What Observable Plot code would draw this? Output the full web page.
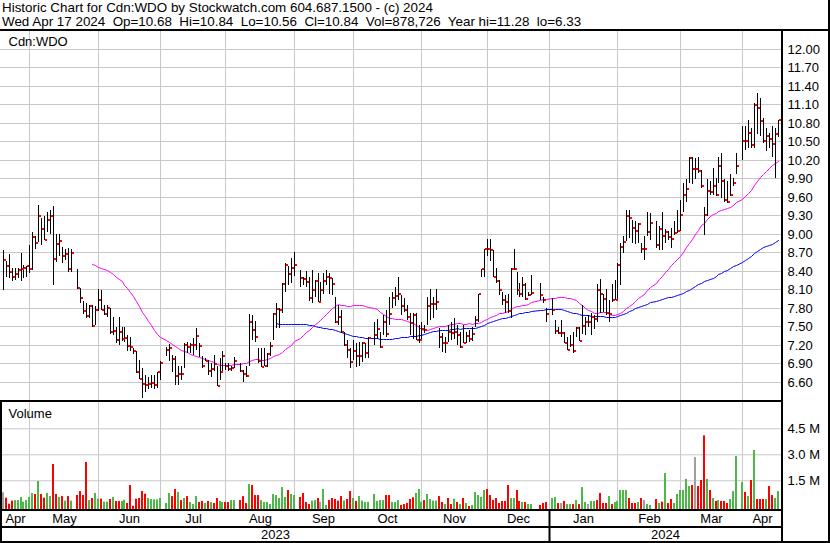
<!DOCTYPE html>
<html>
<head>
<meta charset="utf-8">
<script src="https://cdn.jsdelivr.net/npm/d3@7"></script>
<script src="https://cdn.jsdelivr.net/npm/@observablehq/plot@0.6"></script>
<style>
  html, body { margin: 0; padding: 0; background: #fff; }
  #chart { position: relative; width: 830px; height: 543px; overflow: hidden; background: #fff;
           font-family: "Liberation Sans", Arial, sans-serif; font-size: 13px; color: #000; }
  #chart .hdr { position: absolute; left: 2px; white-space: pre; font-size: 13.4px; line-height: 14px; }
  #chart .rule { position: absolute; background: #000; }
  #chart .panel { position: absolute; left: 0; }
  #chart svg { display: block; }
</style>
</head>
<body>
<div id="chart"></div>
<script>
// ---- Quote data: one entry per weekday starting on firstDay (null = market holiday) ----
const firstDay = "2023-04-18";

const highs = [
  8.74, 8.55, 8.67, 8.44, 8.45, 8.45, 8.68, 8.49, 8.48, 8.82,
  9.02, 8.97, 9.47, 9.25, 9.29, 9.36, 9.38, 9.45, 8.99, 8.99,
  8.79, 8.76, 8.77, 8.76, null, 8.43, 8.12, 7.91, 7.87, 7.84,
  7.84, 7.82, 8.10, 8.08, 7.84, 7.84, 7.80, 7.65, 7.49, 7.65,
  7.49, 7.48, 7.36, 7.33, 7.15, 7.09, 6.95, 6.82, 6.71, 6.67,
  6.71, 6.71, 6.76, 6.93, null, 7.17, 7.21, 7.04, 7.01, 6.86,
  6.86, 7.22, 7.24, 7.22, 7.31, 7.47, 7.22, 7.01, 6.99, 6.95,
  6.90, 7.04, 6.85, 6.98, 7.10, 6.90, 6.91, 6.85, 7.00, null,
  6.90, 6.79, 6.85, 7.70, 7.68, 7.58, 7.15, 7.14, 7.14, 7.06,
  7.25, 7.71, 7.88, 7.79, 8.20, 8.52, 8.47, 8.60, 8.70, null,
  8.41, 8.30, 8.39, 8.30, 8.41, 8.25, 8.36, 8.22, 8.36, 8.41,
  8.36, 8.28, 7.98, 7.84, 7.76, 7.41, 7.28, 7.14, 7.28, 7.22,
  7.24, 7.24, 7.23, 7.33, null, 7.57, 7.62, 7.41, 7.68, 7.76,
  7.98, 8.06, 8.14, 8.30, 8.01, 7.96, 7.84, 7.71, 7.72, 7.71,
  7.52, 7.57, 7.52, 7.98, 8.11, 7.98, 8.11, 7.47, 7.39, 7.33,
  7.52, 7.57, 7.63, 7.52, 7.41, 7.52, 7.41, 7.44, 7.48, 7.67,
  8.03, 8.43, 8.76, 8.91, 8.92, 8.74, 8.45, 8.25, 8.06, 8.01,
  8.03, 8.44, 8.76, 8.38, 8.20, 8.30, 8.20, 8.06, 8.33, null,
  null, 8.20, 7.98, 7.79, null, 7.95, 7.60, 7.49, 7.60, 7.41,
  7.33, 7.35, 7.41, 7.49, 7.49, 7.84, 7.65, 7.68, 7.71, 7.68,
  8.19, 8.26, 8.03, 8.11, 7.92, 8.18, 8.25, 8.52, 8.85, 8.96,
  9.39, 9.39, 9.23, 9.20, 9.17, 8.85, 8.96, 9.36, 9.34, null,
  9.20, 9.12, 9.36, 9.07, 9.04, 9.09, 9.20, 9.39, 9.55, 9.82,
  9.88, 10.25, 10.25, 10.23, 10.25, 10.04, 9.44, 9.88, 9.85, 10.07,
  9.90, 10.25, 10.31, 9.88, 9.85, 9.96, 9.90, 10.31, null, 10.74,
  10.74, 10.85, 10.71, 11.12, 11.28, 11.20, 10.88, 10.71, 10.63, 10.74,
  10.71, 10.84
];

const lows = [
  8.09, 8.29, 8.28, 8.24, 8.25, 8.28, 8.24, 8.28, 8.30, 8.36,
  8.41, 8.76, 8.87, 8.82, 8.90, 9.02, 8.99, 8.17, 8.54, 8.64,
  8.52, 8.57, 8.38, 8.38, null, 8.11, 7.87, 7.69, 7.63, 7.64,
  7.49, 7.52, 7.75, 7.76, 7.68, 7.65, 7.37, 7.36, 7.22, 7.20,
  7.26, 7.25, 7.09, 7.09, 7.05, 6.74, 6.64, 6.33, 6.44, 6.48,
  6.49, 6.48, 6.49, 6.63, null, 7.01, 6.93, 6.75, 6.55, 6.54,
  6.63, 6.82, 7.06, 7.07, 7.04, 7.12, 7.00, 6.83, 6.93, 6.71,
  6.68, 6.77, 6.53, 6.63, 6.74, 6.79, 6.77, 6.78, 6.83, null,
  6.75, 6.59, 6.68, 6.86, 7.28, 7.25, 6.90, 6.84, 6.85, 6.84,
  7.01, 7.28, 7.47, 7.47, 7.71, 8.06, 8.17, 8.20, 8.31, null,
  8.14, 8.17, 8.14, 7.91, 7.87, 7.98, 7.90, 7.90, 8.02, 8.17,
  8.02, 8.01, 7.55, 7.52, 7.39, 7.18, 6.98, 6.83, 6.95, 6.84,
  6.86, 6.92, 6.98, 6.99, null, 7.20, 7.30, 7.14, 7.36, 7.33,
  7.52, 7.79, 7.82, 7.93, 7.68, 7.73, 7.60, 7.36, 7.30, 7.28,
  7.22, 7.30, 7.39, 7.52, 7.60, 7.63, 7.76, 7.14, 7.08, 7.06,
  7.25, 7.28, 7.30, 7.20, 7.15, 7.22, 7.22, 7.25, 7.26, 7.48,
  7.57, 8.30, 8.30, 8.64, 8.55, 8.30, 8.20, 8.01, 7.84, 7.71,
  7.72, 7.63, 8.41, 8.01, 7.98, 7.98, 7.92, 7.99, 8.01, null,
  null, 7.92, 7.87, 7.57, null, 7.68, 7.38, 7.37, 7.33, 7.22,
  7.11, 7.17, 7.06, 7.33, 7.26, 7.38, 7.35, 7.49, 7.35, 7.46,
  7.57, 7.71, 7.73, 7.68, 7.57, 7.90, 7.92, 7.92, 8.17, 8.69,
  8.88, 8.93, 8.85, 8.83, 8.85, 8.69, 8.58, 8.96, 8.90, null,
  8.77, 8.74, 8.74, 8.85, 8.90, 8.77, 8.98, 9.01, 9.04, 9.36,
  9.52, 9.82, 9.80, 9.88, 9.98, 9.74, 8.98, 9.28, 9.63, 9.63,
  9.61, 9.82, 9.58, 9.52, 9.50, 9.61, 9.77, 9.96, null, 10.20,
  10.36, 10.39, 10.39, 10.39, 10.61, 10.58, 10.47, 10.34, 10.39, 10.25,
  9.90, 10.56
];

const closes = [
  8.58, 8.47, 8.38, 8.30, 8.35, 8.41, 8.43, 8.45, 8.47, 8.43,
  8.94, 8.85, 9.29, 9.07, 8.90, 9.23, 9.29, 8.59, 8.84, 8.88,
  8.64, 8.67, 8.43, 8.68, null, 8.12, 7.96, 7.74, 7.67, 7.83,
  7.50, 7.76, 7.92, 7.76, 7.70, 7.79, 7.41, 7.42, 7.28, 7.41,
  7.29, 7.31, 7.18, 7.17, 7.09, 6.75, 6.65, 6.57, 6.54, 6.57,
  6.58, 6.54, 6.75, 6.90, null, 7.11, 7.14, 6.97, 6.70, 6.72,
  6.72, 7.20, 7.17, 7.19, 7.19, 7.34, 7.18, 6.85, 6.94, 6.78,
  6.81, 6.89, 6.53, 6.75, 7.01, 6.85, 6.81, 6.82, 6.93, null,
  6.77, 6.72, 6.70, 7.57, 7.44, 7.33, 6.93, 6.84, 6.85, 7.05,
  7.18, 7.70, 7.78, 7.77, 8.19, 8.50, 8.34, 8.44, 8.50, null,
  8.28, 8.26, 8.21, 7.95, 8.08, 8.23, 7.90, 8.08, 8.23, 8.30,
  8.28, 8.19, 7.57, 7.65, 7.41, 7.20, 7.11, 6.92, 7.09, 7.01,
  7.02, 7.22, 7.06, 7.31, null, 7.36, 7.45, 7.17, 7.57, 7.37,
  7.70, 7.95, 7.99, 8.03, 7.83, 7.76, 7.65, 7.55, 7.68, 7.28,
  7.27, 7.45, 7.44, 7.82, 7.86, 7.86, 7.90, 7.32, 7.22, 7.22,
  7.41, 7.39, 7.41, 7.36, 7.17, 7.23, 7.34, 7.30, 7.37, 7.60,
  8.03, 8.42, 8.76, 8.76, 8.74, 8.30, 8.23, 8.09, 7.92, 7.89,
  7.75, 8.42, 8.43, 8.09, 8.02, 8.16, 7.94, 8.00, 8.04, null,
  null, 8.00, 7.93, 7.70, null, 7.76, 7.42, 7.39, 7.39, 7.23,
  7.12, 7.20, 7.10, 7.47, 7.26, 7.51, 7.57, 7.57, 7.65, 7.61,
  8.08, 8.02, 7.94, 7.71, 7.69, 7.93, 7.92, 8.50, 8.78, 8.86,
  9.28, 9.25, 9.10, 9.05, 9.15, 8.76, 8.76, 9.02, 9.17, null,
  8.81, 9.07, 8.96, 9.02, 8.94, 8.92, 9.01, 9.05, 9.30, 9.62,
  9.72, 10.22, 10.05, 10.05, 10.02, 9.77, 9.31, 9.70, 9.67, 9.77,
  9.63, 10.09, 9.86, 9.54, 9.51, 9.62, 9.82, 10.09, null, 10.51,
  10.50, 10.64, 10.44, 11.09, 11.04, 10.82, 10.50, 10.58, 10.54, 10.46,
  10.61, 10.84
];

// Daily volume, millions of shares
const volumes = [
  0.81, 0.50, 0.15, 0.33, 0.36, 0.36, 0.54, 0.27, 0.36, 0.54,
  0.77, 0.71, 1.46, 0.71, 0.50, 0.77, 0.59, 2.44, 0.71, 0.54,
  0.59, 0.33, 0.59, 0.33, null, 0.65, 0.88, 0.65, 2.56, 0.36,
  0.48, 0.77, 0.44, 0.44, 0.27, 0.27, 0.42, 0.54, 0.31, 0.31,
  0.31, 0.38, 0.19, 1.23, 0.03, 0.44, 0.48, 0.88, 0.73, 0.48,
  0.42, 0.40, 0.40, 0.48, null, 0.19, 0.77, 0.59, 1.00, 0.83,
  0.36, 0.48, 0.59, 0.25, 0.13, 0.59, 0.25, 0.31, 0.19, 0.31,
  0.25, 0.19, 0.48, 0.31, 0.25, 0.25, 0.25, 0.36, 0.36, null,
  0.36, 0.59, 0.19, 1.29, 1.23, 0.65, 0.65, 0.36, 0.25, 0.25,
  0.13, 0.71, 0.65, 0.48, 1.11, 0.54, 0.94, 0.71, 0.65, null,
  0.54, 0.77, 0.25, 0.13, 0.33, 0.36, 0.48, 0.25, 1.00, 0.08,
  0.36, 0.48, 0.42, 0.33, 0.59, 0.33, 0.42, 0.88, 0.48, 0.31,
  0.59, 0.33, 0.25, 0.25, null, 0.71, 0.31, 0.36, 0.36, 0.65,
  0.65, 0.25, 0.25, 0.36, 0.08, 0.13, 0.19, 0.42, 0.52, 0.77,
  1.00, 0.27, 0.36, 0.71, 0.42, 0.33, 0.33, 0.59, 0.25, 0.13,
  0.48, 0.13, 0.44, 0.25, 0.13, 0.48, 0.19, 0.02, 0.08, 0.83,
  0.65, 0.54, 0.94, 1.00, 0.65, 0.36, 0.48, 0.19, 0.31, 0.31,
  1.23, 0.48, 0.48, 0.94, 0.31, 0.25, 0.25, 0.13, 0.13, null,
  null, 0.08, 0.19, 0.25, null, 0.48, 0.54, 0.19, 0.19, 0.31,
  0.13, 0.13, 0.13, 0.36, 0.13, 1.11, 0.25, 0.13, 0.31, 0.31,
  0.36, 0.77, 0.19, 0.19, 0.59, 0.13, 0.25, 0.31, 0.94, 0.94,
  0.94, 0.48, 0.19, 0.19, 0.25, 0.48, 0.36, 0.13, 0.08, null,
  0.42, 0.19, 0.27, 1.92, 0.19, 0.42, 0.19, 0.71, 0.94, 0.94,
  1.58, 1.17, 1.23, 2.84, 1.17, 1.52, 4.09, 1.58, 0.94, 0.48,
  0.31, 0.36, 0.31, 0.31, 0.19, 0.42, 0.88, 2.90, null, 1.40,
  0.83, 0.59, 1.52, 3.25, 0.42, 0.42, 0.42, 0.42, 1.17, 0.65,
  0.48, 0.879
];

// Day's move versus the previous close: u = up, d = down, n = unchanged, . = holiday
const moves = (
  "nddduuuuuu ududduuddu dudu.ddddu duuduududd uudddddddu " +
  "uuuu.uuddu duduuuddud udduudduu. ddduddduuu uuuuuuduu. " +
  "dddduudnuu ddddduddud uuuu.uuuud duuudddddu uuduuuuddu " +
  "ddudududuu uuuddddddd duudduduu. .ddd.uudnd uududuunuu " +
  "dddduduuuu udddudnuu. dududduuuu uudndddudu duddduuu.u " +
  "dududddudd uu"
).replace(/ /g, "");

const priceTicks = [6.60, 6.90, 7.20, 7.50, 7.80, 8.10, 8.40, 8.70, 9.00, 9.30,
                    9.60, 9.90, 10.20, 10.50, 10.80, 11.10, 11.40, 11.70, 12.00];
const volumeTicks = [1.5, 3.0, 4.5];

const titleLine = "Historic Chart for Cdn:WDO by Stockwatch.com 604.687.1500 - (c) 2024";
const quoteLine = "Wed Apr 17 2024  Op=10.68  Hi=10.84  Lo=10.56  Cl=10.84  Vol=878,726  Year hi=11.28  lo=6.33";
const tickerLabel = "Cdn:WDO";
const volumeLabel = "Volume";

// ---- Calendar: one slot per weekday ----
const dates = [];
for (let d = new Date(firstDay + "T00:00:00Z"); dates.length < closes.length; d = d3.utcDay.offset(d, 1)) {
  const wd = d.getUTCDay();
  if (wd !== 0 && wd !== 6) dates.push(d);
}
const rows = dates
  .map((date, i) => ({i, date, high: highs[i], low: lows[i], close: closes[i], volume: volumes[i], move: moves[i]}))
  .filter(d => d.close != null);

// x runs over weekday slots; the panel edges sit a little outside the first and last slot
const xDomain = [-0.91, dates.length + 0.05];

// Month grid: the last weekday on or before the first of each month
const monthStarts = d3.utcMonths(d3.utcMonth.ceil(dates[0]), d3.utcDay.offset(dates[dates.length - 1], 1));
const monthGrid = monthStarts.map(m => d3.bisectRight(dates, m) - 1);
const monthEdges = [xDomain[0], ...monthGrid, xDomain[1]];
const monthNames = [d3.utcMonth.floor(dates[0]), ...monthStarts].map(d3.utcFormat("%b"));
const monthLabels = monthNames.map((label, j) => ({label, mid: (monthEdges[j] + monthEdges[j + 1]) / 2}));

const yearStarts = d3.utcYears(d3.utcYear.ceil(dates[0]), dates[dates.length - 1]);
const yearGrid = yearStarts.map(y => d3.bisectRight(dates, y) - 1);
const yearEdges = [xDomain[0], ...yearGrid, xDomain[1]];
const yearNames = [d3.utcYear.floor(dates[0]), ...yearStarts].map(d3.utcFormat("%Y"));
const yearLabels = yearNames.map((label, j) => ({label, mid: (yearEdges[j] + yearEdges[j + 1]) / 2}));

// ---- Styling ----
const font = "'Liberation Sans', Arial, sans-serif";
const gridColor = "#c8c8c8";
const moveColors = {u: "#4cb848", d: "#ff0000", n: "#a0a0a0"};
const baseStyle = {fontFamily: font, fontSize: "13px", color: "#000", background: "transparent", overflow: "visible"};
const frame = {width: 830, marginLeft: 0, marginRight: 49, marginTop: 0, marginBottom: 0};

// ---- Price panel ----
const pricePlot = Plot.plot({
  ...frame,
  height: 369,
  style: baseStyle,
  x: {domain: xDomain, round: true, axis: null, label: null},
  y: {domain: [6.6, 12.0], range: [350.7, 17.7], round: true, axis: null, label: null},
  marks: [
    Plot.ruleY(priceTicks, {stroke: gridColor}),
    Plot.ruleX(monthGrid, {stroke: gridColor}),
    Plot.lineY(rows, Plot.windowY({k: 90, anchor: "end", strict: true}, {x: "i", y: "close", stroke: "#0000ff", strokeWidth: 1})),
    Plot.lineY(rows, Plot.windowY({k: 30, anchor: "end", strict: true}, {x: "i", y: "close", stroke: "#ff00ff", strokeWidth: 1})),
    Plot.ruleX(rows, {x: "i", y1: "low", y2: "high", stroke: "#000", strokeWidth: 1}),
    Plot.rect(rows, {x1: "i", x2: "i", y1: "close", y2: "close",
                     insetLeft: 1, insetRight: -3, insetTop: -1, insetBottom: -1, fill: "#ff0000"}),
    Plot.axisY(priceTicks, {anchor: "right", tickSize: 0, tickPadding: 6, label: null, tickFormat: d => d.toFixed(2)}),
    Plot.text([tickerLabel], {frameAnchor: "top-left", dx: 8, dy: 10, lineAnchor: "middle", textAnchor: "start"})
  ]
});

// ---- Volume panel ----
const volumePlot = Plot.plot({
  ...frame,
  height: 107,
  style: baseStyle,
  x: {domain: xDomain, round: true, axis: null, label: null},
  y: {domain: [0, 4.5], range: [104.3, 26.3], axis: null, label: null},
  marks: [
    Plot.ruleY(volumeTicks, {stroke: gridColor}),
    Plot.ruleX(monthGrid, {stroke: gridColor}),
    Plot.rect(rows, {x1: "i", x2: "i", y1: 0, y2: "volume",
                     insetLeft: -1, insetRight: -1, insetBottom: -3,
                     fill: d => moveColors[d.move]}),
    Plot.axisY(volumeTicks, {anchor: "right", tickSize: 0, tickPadding: 6, label: null, tickFormat: d => d.toFixed(1) + " M"}),
    Plot.text([volumeLabel], {frameAnchor: "top-left", dx: 8, dy: 11, lineAnchor: "middle", textAnchor: "start"})
  ]
});

// ---- Month and year strip ----
const stripPlot = Plot.plot({
  ...frame,
  height: 30,
  style: baseStyle,
  x: {domain: xDomain, round: true, axis: null, label: null},
  marks: [
    Plot.ruleX(yearGrid, {stroke: "#000", strokeWidth: 2}),
    Plot.text(monthLabels, {x: "mid", text: "label", frameAnchor: "top", dy: 7.5, lineAnchor: "middle"}),
    Plot.text(yearLabels, {x: "mid", text: "label", frameAnchor: "bottom", dy: -6.5, lineAnchor: "middle"})
  ]
});

// ---- Assemble ----
const chart = document.getElementById("chart");
function place(el, top) {
  const wrap = document.createElement("div");
  wrap.className = "panel";
  wrap.style.top = top + "px";
  wrap.appendChild(el);
  chart.appendChild(wrap);
}
function rule(left, top, width, height) {
  const r = document.createElement("div");
  r.className = "rule";
  Object.assign(r.style, {left: left + "px", top: top + "px", width: width + "px", height: height + "px"});
  chart.appendChild(r);
}
function header(text, top) {
  const h = document.createElement("div");
  h.className = "hdr";
  h.style.top = top + "px";
  h.textContent = text;
  chart.appendChild(h);
}

header(titleLine, 1);
header(quoteLine, 15);
place(pricePlot, 31);
place(volumePlot, 402);
place(stripPlot, 511);

rule(0, 29, 830, 2);     // under the header
rule(0, 400, 783, 2);    // price / volume
rule(0, 509, 783, 2);    // volume / months
rule(0, 526, 783, 2);    // months / years
rule(0, 541, 830, 2);    // bottom edge
rule(781, 31, 2, 512);   // right edge of the plotting area
rule(828, 0, 2, 543);    // outer right edge
rule(0, 400, 2, 143);    // left edge of the lower panels
</script>
</body>
</html>
